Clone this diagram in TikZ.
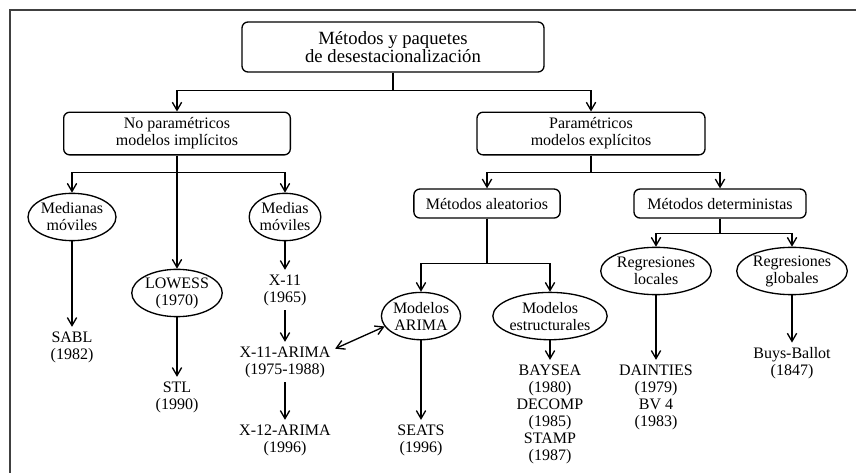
\documentclass[tikz,border=0pt]{standalone}
\usepackage{fontspec}
\setmainfont{Liberation Serif}
\usepackage{tikz}
\usetikzlibrary{positioning,shapes.geometric,arrows.meta}

\begin{document}
\begin{tikzpicture}[
        on grid,
        line width=1pt,
        >={Straight Barb[length=6pt,width=7pt]},
        txt/.style={font=\fontsize{12}{12.75}\selectfont, align=center},
        box/.style={txt, draw, rounded corners=4.5pt, inner xsep=9pt, minimum height=21.75pt},
        oval/.style={txt, draw, ellipse, inner sep=0pt, minimum height=35.5pt},
        leaf/.style={txt, inner sep=3pt}
    ]
        \useasboundingbox (0,0) rectangle (642pt,-354.75pt);
        \draw[line width=1.5pt, black!75] (7.5pt,-354.75pt) |- (642pt,-7.5pt);

        \node[box, font=\fontsize{14}{13.5}\selectfont, minimum width=226.5pt, minimum height=37.5pt] (top) at (294.75pt,-35.25pt) {Métodos y paquetes\\de desestacionalización};
        \node[box, minimum width=170pt, minimum height=32pt, below left = 64.9pt and 162pt of top] (np) {No paramétricos\\modelos implícitos};
        \node[box, minimum width=171pt, minimum height=32pt, below right = 64.9pt and 148.5pt of top] (p) {Paramétricos\\modelos explícitos};

        \node[oval, below left = 62.6pt and 78.75pt of np] (med) {Medianas\\móviles};
        \node[oval, below right = 62.6pt and 81pt of np] (mm) {Medias\\móviles};
        \node[oval, below = 119.6pt of np] (low) {LOWESS\\(1970)};
        \node[leaf, below = 97.5pt of med] (sabl) {SABL\\(1982)};
        \node[leaf, below = 78pt of low] (stl) {STL\\(1990)};
        \node[leaf, below = 54.75pt of mm] (x11) {X-11\\(1965)};
        \node[leaf, below = 54pt of x11] (x11a) {X-11-ARIMA\\(1975-1988)};
        \node[leaf, below = 58.5pt of x11a] (x12) {X-12-ARIMA\\(1996)};

        \node[box, minimum width=109.5pt, below left = 52.5pt and 78pt of p] (al) {Métodos aleatorios};
        \node[box, minimum width=129pt, below right = 52.5pt and 96.75pt of p] (det) {Métodos deterministas};
        \node[oval, below left = 84.4pt and 49.5pt of al] (arima) {Modelos\\ARIMA};
        \node[oval, below right = 84.4pt and 47.25pt of al] (est) {Modelos\\estructurales};
        \node[leaf, below = 93pt of arima] (seats) {SEATS\\(1996)};
        \node[leaf, below = 73.5pt of est] (bay) {BAYSEA\\(1980)\\DECOMP\\(1985)\\STAMP\\(1987)};
        \node[oval, below left = 50.6pt and 48pt of det] (rl) {Regresiones\\locales};
        \node[oval, below right = 50.6pt and 54pt of det] (rg) {Regresiones\\globales};
        \node[leaf, below = 94.5pt of rl] (dain) {DAINTIES\\(1979)\\BV 4\\(1983)};
        \node[leaf, below = 69pt of rg] (buys) {Buys-Ballot\\(1847)};

        \draw[->] (top.south) -- ++(0,-13.5pt) -| (np);
        \draw[->] (top.south) -- ++(0,-13.5pt) -| (p);
        \draw[->] (np.south) -- ++(0,-12.75pt) -| (med);
        \draw[->] (np.south) -- ++(0,-12.75pt) -| (mm);
        \draw[->] (np) -- (low);
        \draw[->] (p.south) -- ++(0,-12.75pt) -| (al);
        \draw[->] (p.south) -- ++(0,-12.75pt) -| (det);
        \draw[->] (al.south) -- ++(0,-33.75pt) -| (arima);
        \draw[->] (al.south) -- ++(0,-33.75pt) -| (est);
        \draw[->] (det.south) -- ++(0,-11.25pt) -| (rl);
        \draw[->] (det.south) -- ++(0,-11.25pt) -| (rg);
        \draw[->] (med) -- (sabl);
        \draw[->] (low) -- (stl);
        \draw[->] (mm) -- (x11);
        \draw[->] (x11) -- (x11a);
        \draw[->] (x11a) -- (x12);
        \draw[<->] ([yshift=10pt]x11a.east) -- (arima.196);
        \draw[->] (arima) -- (seats);
        \draw[->] (est) -- (bay);
        \draw[->] (rl) -- (dain);
        \draw[->] (rg) -- (buys);
    \end{tikzpicture}
\end{document}
